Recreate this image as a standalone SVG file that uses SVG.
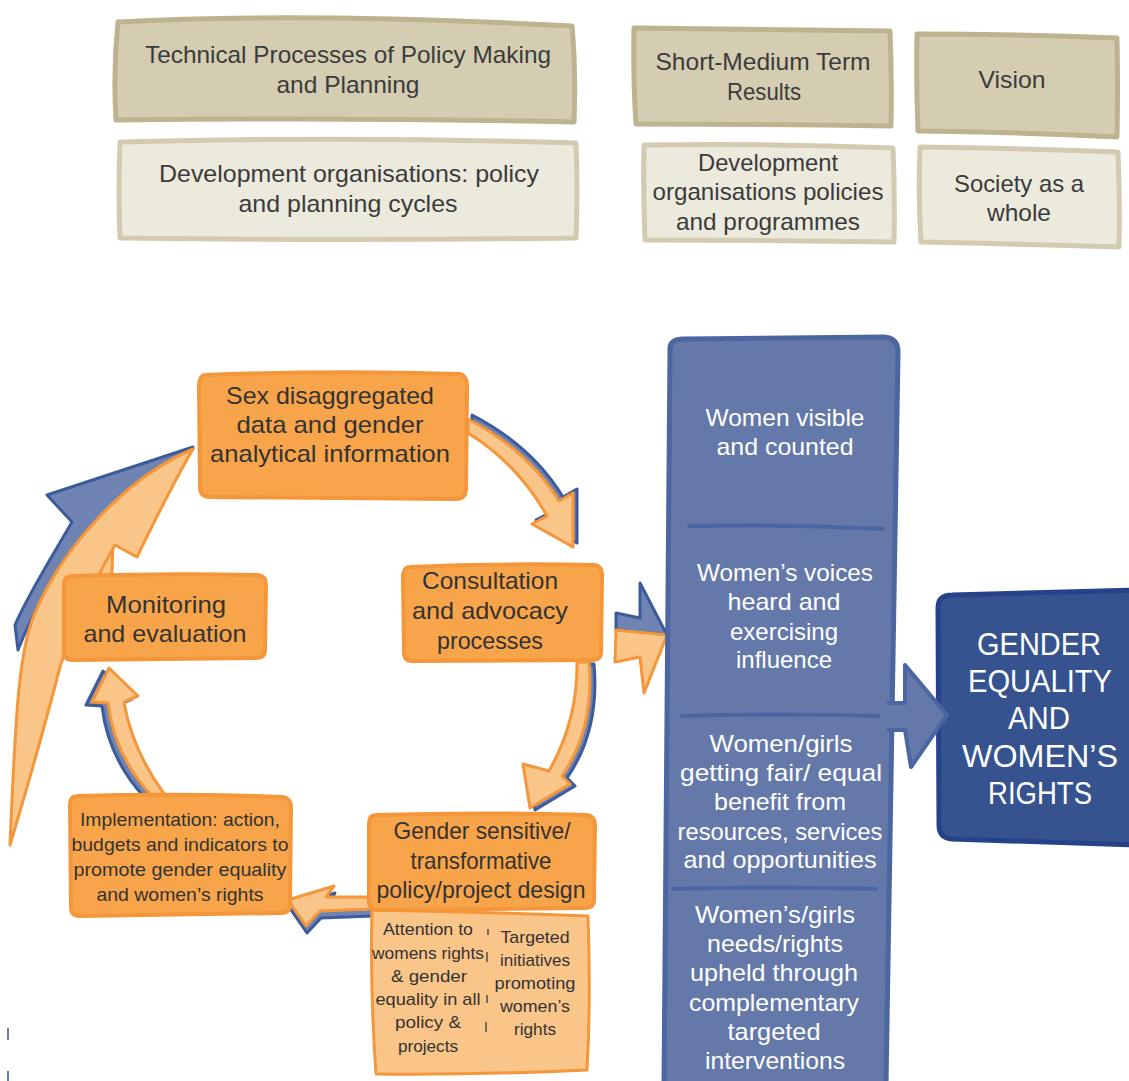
<svg xmlns="http://www.w3.org/2000/svg" width="1129" height="1081" viewBox="0 0 1129 1081">
<style>
text{font-family:"Liberation Sans",Arial,sans-serif;text-anchor:middle}
.dk{fill:#3b3b3b;font-size:24px}
.dko{fill:#333;font-size:24px}
.imp{fill:#333;font-size:19px}
.att{fill:#333;font-size:17px}
.wt{fill:#fff;font-size:24px}
.ge{fill:#fff;font-size:32px}
.tan{fill:#d4cdb1;stroke:#bdb38e;stroke-width:5;stroke-linejoin:round}
.lt{fill:#ece9dd;stroke:#d3cbb1;stroke-width:5;stroke-linejoin:round}
.ob{fill:#f8a44a;stroke:#f4963a;stroke-width:4;stroke-linejoin:round}
.ol{fill:#fac589;stroke:#f4963a;stroke-width:3;stroke-linejoin:round}
.ab{fill:#6f84b3;stroke:#3d5a9b;stroke-width:3;stroke-linejoin:round}
.col{fill:#6479a9;stroke:#4b66a0;stroke-width:5;stroke-linejoin:round}
.div{stroke:#4b66a0;stroke-width:4;fill:none;stroke-linecap:round}
</style>

<g id="header-technical">
<path class="tan" d="M118,22 Q300,12 572,26 Q576,70 574,122 Q350,117 116,120 Q113,70 118,22 Z"/>
<text class="dk" x="348" y="63" textLength="406" lengthAdjust="spacingAndGlyphs">Technical Processes of Policy Making</text>
<text class="dk" x="348" y="93" textLength="143" lengthAdjust="spacingAndGlyphs">and Planning</text>
</g>
<g id="header-devorg">
<path class="lt" d="M120,142 Q350,136 576,143 Q578,190 576,238 Q350,241 120,238 Q118,190 120,142 Z"/>
<text class="dk" x="349" y="182" textLength="380" lengthAdjust="spacingAndGlyphs">Development organisations: policy</text>
<text class="dk" x="348" y="212" textLength="219" lengthAdjust="spacingAndGlyphs">and planning cycles</text>
</g>
<g id="header-short">
<path class="tan" d="M634,28 Q760,30 890,31 Q892,80 891,126 Q760,124 636,124 Q633,80 634,28 Z"/>
<text class="dk" x="763" y="70" textLength="215" lengthAdjust="spacingAndGlyphs">Short-Medium Term</text>
<text class="dk" x="764" y="100" textLength="74" lengthAdjust="spacingAndGlyphs">Results</text>
</g>
<g id="header-vision">
<path class="tan" d="M917,34 Q1015,34 1117,38 Q1118,90 1117,137 Q1015,132 918,131 Q916,80 917,34 Z"/>
<text class="dk" x="1012" y="88" textLength="67" lengthAdjust="spacingAndGlyphs">Vision</text>
</g>
<g id="header-devpolicies">
<path class="lt" d="M644,145 Q770,143 893,148 Q895,195 894,242 Q770,240 645,240 Q643,190 644,145 Z"/>
<text class="dk" x="768" y="171" textLength="140" lengthAdjust="spacingAndGlyphs">Development</text>
<text class="dk" x="768" y="200" textLength="231" lengthAdjust="spacingAndGlyphs">organisations policies</text>
<text class="dk" x="768" y="230" textLength="184" lengthAdjust="spacingAndGlyphs">and programmes</text>
</g>
<g id="header-society">
<path class="lt" d="M920,147 Q1020,148 1118,152 Q1120,200 1119,247 Q1020,244 921,242 Q918,195 920,147 Z"/>
<text class="dk" x="1019" y="192" textLength="130" lengthAdjust="spacingAndGlyphs">Society as a</text>
<text class="dk" x="1019" y="221" textLength="64" lengthAdjust="spacingAndGlyphs">whole</text>
</g>

<g id="connectors">
<path class="ab" d="M92,575 L99,540 L104,540 L99,575 Z"/>
<path class="ol" d="M99,575 L101,537 L113,537 L112,575 Z"/>
<path class="ab" d="M193,447 L47,495 L72,522 C50,560 28,595 15,625 L18,650 C45,580 110,490 193,449 Z"/>
<path class="ol" d="M193,449 C125,478 62,548 34,615 C20,650 16,700 10,845 C28,785 45,725 60,667 C75,620 95,580 115,545 L137,557 C155,520 175,480 193,449 Z"/>
<path class="ab" transform="translate(4,-4)" d="M468,419 Q528,450 559,501 L573,493 L573,547 L532,524 L547,516 Q518,464 468,433 Z"/>
<path class="ol" d="M468,419 Q528,450 559,501 L573,493 L573,547 L532,524 L547,516 Q518,464 468,433 Z"/>
<path class="ab" transform="translate(5,2)" d="M577,662 L589,662 Q595,728 562,776 L570,784 L530,808 L523,764 L549,771 Q578,720 577,662 Z"/>
<path class="ol" d="M577,662 L589,662 Q595,728 562,776 L570,784 L530,808 L523,764 L549,771 Q578,720 577,662 Z"/>
<path class="ab" transform="translate(1,7)" d="M372,897 L326,897 L334,886 L288,900 L306,926 L320,911 L372,909 Z"/>
<path class="ol" d="M372,897 L326,897 L334,886 L288,900 L306,926 L320,911 L372,909 Z"/>
<path class="ab" transform="translate(-6,3)" d="M151,795 L165,795 Q132,750 124,702 L138,696 L109,668 L92,702 L108,703 Q114,755 151,795 Z"/>
<path class="ol" d="M151,795 L165,795 Q132,750 124,702 L138,696 L109,668 L92,702 L108,703 Q114,755 151,795 Z"/>
<path class="ab" d="M616,613 L640,618 L640,583 L667,635 L616,630 Z"/>
<path class="ol" d="M616,630 L667,635 L644,693 L640,657 L615,662 Z"/>
<path d="M8,1028 L8,1040 M8,1071 L8,1081" stroke="#6479a9" stroke-width="2"/>
</g>

<g id="node-data">
<path class="ob" d="M205,375 Q330,370 460,374 Q468,376 467,390 L466,490 Q465,500 455,499 L210,497 Q200,497 200,487 L199,385 Q200,375 205,375 Z"/>
<text class="dko" x="330" y="404" textLength="208" lengthAdjust="spacingAndGlyphs">Sex disaggregated</text>
<text class="dko" x="330" y="433" textLength="187" lengthAdjust="spacingAndGlyphs">data and gender</text>
<text class="dko" x="330" y="462" textLength="240" lengthAdjust="spacingAndGlyphs">analytical information</text>
</g>
<g id="node-consultation">
<path class="ob" d="M410,567 Q500,563 595,565 Q603,567 602,577 L601,652 Q601,660 592,660 L412,661 Q404,661 404,652 L403,575 Q404,567 410,567 Z"/>
<text class="dko" x="490" y="589" textLength="136" lengthAdjust="spacingAndGlyphs">Consultation</text>
<text class="dko" x="490" y="619" textLength="156" lengthAdjust="spacingAndGlyphs">and advocacy</text>
<text class="dko" x="490" y="649" textLength="106" lengthAdjust="spacingAndGlyphs">processes</text>
</g>
<g id="node-monitoring">
<path class="ob" d="M72,576 Q170,573 258,575 Q266,576 266,585 L265,650 Q265,658 256,658 L72,660 Q64,660 64,651 L64,585 Q64,576 72,576 Z"/>
<text class="dko" x="166" y="613" textLength="120" lengthAdjust="spacingAndGlyphs">Monitoring</text>
<text class="dko" x="165" y="642" textLength="163" lengthAdjust="spacingAndGlyphs">and evaluation</text>
</g>
<g id="node-implementation">
<path class="ob" d="M78,796 Q180,793 282,797 Q291,798 291,808 L290,905 Q290,913 281,913 L80,916 Q71,916 71,907 L70,805 Q70,796 78,796 Z"/>
<text class="imp" x="180" y="826" textLength="200" lengthAdjust="spacingAndGlyphs">Implementation: action,</text>
<text class="imp" x="180" y="851" textLength="217" lengthAdjust="spacingAndGlyphs">budgets and indicators to</text>
<text class="imp" x="180" y="876" textLength="213" lengthAdjust="spacingAndGlyphs">promote gender equality</text>
<text class="imp" x="180" y="901" textLength="167" lengthAdjust="spacingAndGlyphs">and women’s rights</text>
</g>
<g id="node-attention">
<path class="ol" d="M372,910 Q480,912 588,916 Q591,1000 587,1070 Q480,1075 376,1074 Q370,990 372,910 Z"/>
<path d="M488,929 L488,935 M487,952 L487,962 M487,995 L487,1003 M486,1022 L486,1032" stroke="#555" stroke-width="1.6" fill="none"/>
<text class="att" x="428" y="935" textLength="90" lengthAdjust="spacingAndGlyphs">Attention to</text>
<text class="att" x="428" y="959" textLength="112" lengthAdjust="spacingAndGlyphs">womens rights</text>
<text class="att" x="429" y="982" textLength="76" lengthAdjust="spacingAndGlyphs">&amp; gender</text>
<text class="att" x="428" y="1005" textLength="105" lengthAdjust="spacingAndGlyphs">equality in all</text>
<text class="att" x="428" y="1028" textLength="66" lengthAdjust="spacingAndGlyphs">policy &amp;</text>
<text class="att" x="428" y="1052" textLength="60" lengthAdjust="spacingAndGlyphs">projects</text>
<text class="att" x="535" y="943" textLength="69" lengthAdjust="spacingAndGlyphs">Targeted</text>
<text class="att" x="535" y="966" textLength="70" lengthAdjust="spacingAndGlyphs">initiatives</text>
<text class="att" x="535" y="989" textLength="81" lengthAdjust="spacingAndGlyphs">promoting</text>
<text class="att" x="535" y="1012" textLength="70" lengthAdjust="spacingAndGlyphs">women’s</text>
<text class="att" x="535" y="1035" textLength="42" lengthAdjust="spacingAndGlyphs">rights</text>
</g>
<g id="node-design">
<path class="ob" d="M376,815 Q480,812 587,815 Q595,816 595,826 L594,900 Q594,908 585,908 L377,910 Q369,910 369,901 L369,824 Q369,815 376,815 Z"/>
<text class="dko" x="482" y="839" textLength="177" lengthAdjust="spacingAndGlyphs">Gender sensitive/</text>
<text class="dko" x="481" y="869" textLength="141" lengthAdjust="spacingAndGlyphs">transformative</text>
<text class="dko" x="481" y="898" textLength="209" lengthAdjust="spacingAndGlyphs">policy/project design</text>
</g>

<g id="node-results">
<path class="col" d="M670,350 Q669,339 684,339 L884,337 Q898,338 898,352 L886,1085 L664,1085 Z"/>
<path class="div" d="M689,526 Q780,524 883,529 M682,716 Q780,713 879,716 M673,889 Q770,886 876,889"/>
<text class="wt" x="785" y="426" textLength="159" lengthAdjust="spacingAndGlyphs">Women visible</text>
<text class="wt" x="785" y="455" textLength="137" lengthAdjust="spacingAndGlyphs">and counted</text>
<text class="wt" x="785" y="581" textLength="176" lengthAdjust="spacingAndGlyphs">Women’s voices</text>
<text class="wt" x="784" y="610" textLength="113" lengthAdjust="spacingAndGlyphs">heard and</text>
<text class="wt" x="784" y="640" textLength="108" lengthAdjust="spacingAndGlyphs">exercising</text>
<text class="wt" x="784" y="668" textLength="96" lengthAdjust="spacingAndGlyphs">influence</text>
<text class="wt" x="781" y="752" textLength="143" lengthAdjust="spacingAndGlyphs">Women/girls</text>
<text class="wt" x="781" y="781" textLength="202" lengthAdjust="spacingAndGlyphs">getting fair/ equal</text>
<text class="wt" x="780" y="810" textLength="132" lengthAdjust="spacingAndGlyphs">benefit from</text>
<text class="wt" x="780" y="840" textLength="205" lengthAdjust="spacingAndGlyphs">resources, services</text>
<text class="wt" x="780" y="868" textLength="193" lengthAdjust="spacingAndGlyphs">and opportunities</text>
<text class="wt" x="775" y="923" textLength="160" lengthAdjust="spacingAndGlyphs">Women’s/girls</text>
<text class="wt" x="775" y="952" textLength="136" lengthAdjust="spacingAndGlyphs">needs/rights</text>
<text class="wt" x="774" y="981" textLength="168" lengthAdjust="spacingAndGlyphs">upheld through</text>
<text class="wt" x="774" y="1011" textLength="170" lengthAdjust="spacingAndGlyphs">complementary</text>
<text class="wt" x="774" y="1040" textLength="93" lengthAdjust="spacingAndGlyphs">targeted</text>
<text class="wt" x="775" y="1069" textLength="140" lengthAdjust="spacingAndGlyphs">interventions</text>
</g>

<g id="node-gender-equality">
<path d="M938,608 Q938,595 952,595 L1135,590 L1135,845 L952,839 Q939,838 939,825 Z" fill="#36538f" stroke="#26438a" stroke-width="5" stroke-linejoin="round"/>
<text class="ge" x="1039" y="655" textLength="124" lengthAdjust="spacingAndGlyphs">GENDER</text>
<text class="ge" x="1040" y="692" textLength="144" lengthAdjust="spacingAndGlyphs">EQUALITY</text>
<text class="ge" x="1039" y="729" textLength="62" lengthAdjust="spacingAndGlyphs">AND</text>
<text class="ge" x="1040" y="767" textLength="156" lengthAdjust="spacingAndGlyphs">WOMEN’S</text>
<text class="ge" x="1040" y="804" textLength="104" lengthAdjust="spacingAndGlyphs">RIGHTS</text>
</g>

<g id="connector-results-to-goal">
<path d="M880,703 L905,703 L905,665 L947,715 L911,767 L905,730 L880,730 Z" fill="#6479a9"/>
<path d="M887,703 L905,703 L905,665 L947,715 L911,767 L905,730 L887,730" fill="none" stroke="#4b66a0" stroke-width="4" stroke-linejoin="round"/>
</g>
</svg>
